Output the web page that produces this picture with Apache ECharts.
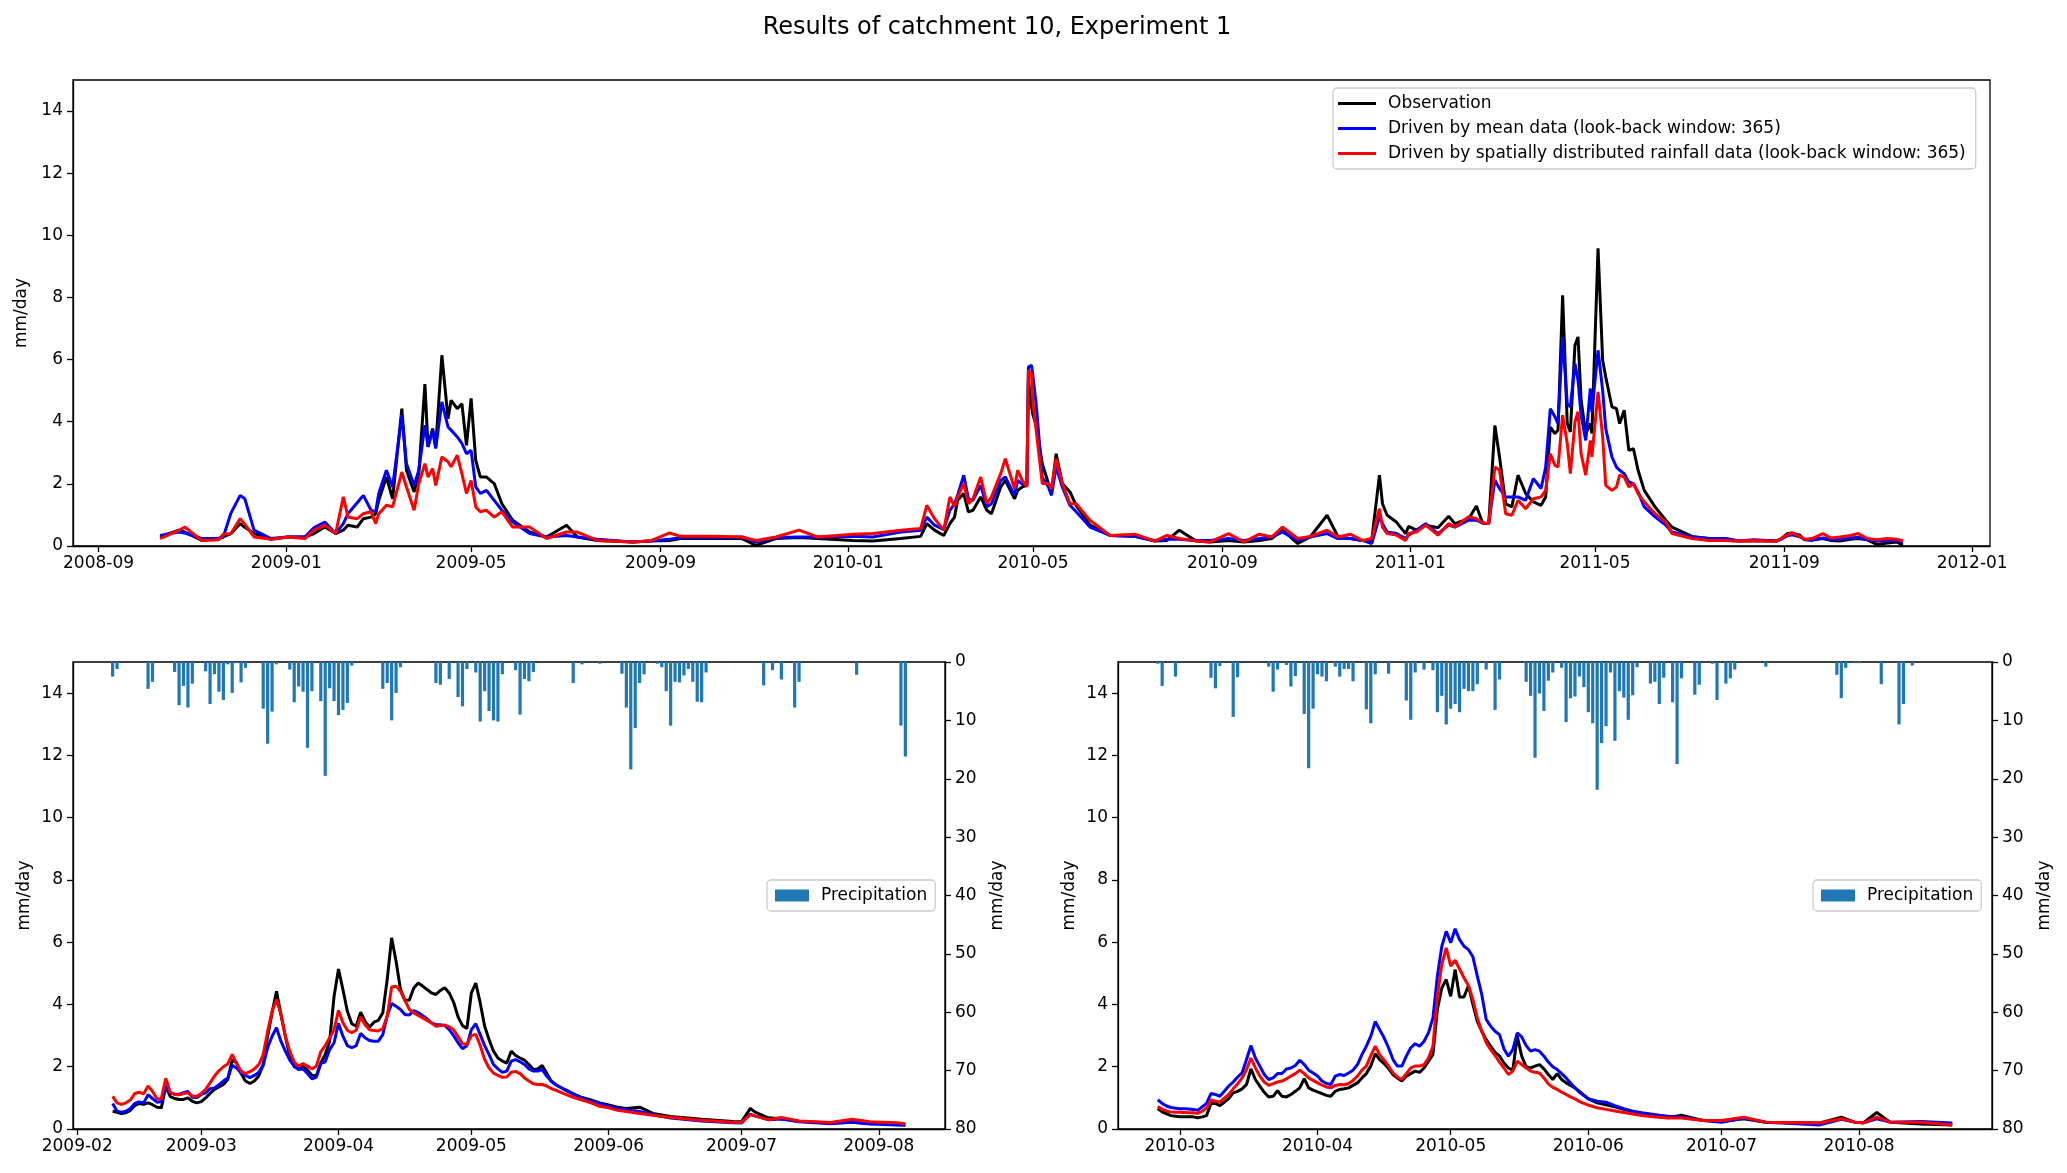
<!DOCTYPE html>
<html>
<head>
<meta charset="utf-8">
<title>Results of catchment 10, Experiment 1</title>
<script src="https://cdn.jsdelivr.net/npm/echarts@6/dist/echarts.min.js"></script>
<style>
  html, body { margin: 0; padding: 0; background: #fff; }
  #chart { width: 2067px; height: 1173px; }
</style>
</head>
<body>
<div id="chart"></div>
<script type="text/javascript">
// ---- top panel: whole period (mm/day) ----
var topDates = [
  '2008-10-11','2008-10-23','2008-10-27','2008-11-07','2008-11-18','2008-11-21','2008-11-26','2008-12-02','2008-12-05','2008-12-11','2008-12-22',
  '2009-01-02','2009-01-13','2009-01-19','2009-01-26','2009-02-02','2009-02-07','2009-02-10','2009-02-16','2009-02-20','2009-02-25','2009-02-28',
  '2009-03-02','2009-03-07','2009-03-11','2009-03-17','2009-03-20','2009-03-25','2009-03-28','2009-04-01','2009-04-03','2009-04-06','2009-04-08',
  '2009-04-12','2009-04-16','2009-04-18','2009-04-22','2009-04-25','2009-04-28','2009-05-01','2009-05-04','2009-05-07','2009-05-11','2009-05-16',
  '2009-05-21','2009-05-28','2009-06-08','2009-06-19','2009-07-02','2009-07-09','2009-07-22','2009-08-14','2009-08-25','2009-09-07',
  '2009-09-14','2009-10-06','2009-10-24','2009-11-02','2009-11-15','2009-11-30','2009-12-12','2010-01-04','2010-01-17','2010-02-04','2010-02-17',
  '2010-02-21','2010-02-26','2010-03-04','2010-03-08','2010-03-11','2010-03-13','2010-03-17','2010-03-20','2010-03-23','2010-03-28','2010-04-01',
  '2010-04-04','2010-04-10','2010-04-13','2010-04-19','2010-04-21','2010-04-24','2010-04-27','2010-04-28','2010-04-30','2010-05-01','2010-05-03',
  '2010-05-07','2010-05-11','2010-05-13','2010-05-16','2010-05-20','2010-05-25','2010-05-29','2010-06-07','2010-06-20','2010-07-06','2010-07-19',
  '2010-07-27','2010-08-04','2010-08-15',
  '2010-08-24','2010-09-05','2010-09-15','2010-09-25','2010-10-03','2010-10-10','2010-10-20','2010-10-28','2010-11-08','2010-11-15','2010-11-23',
  '2010-12-01','2010-12-07','2010-12-12','2010-12-14','2010-12-17','2010-12-23','2010-12-29','2010-12-31','2011-01-05','2011-01-11','2011-01-19',
  '2011-01-26','2011-01-30','2011-02-08','2011-02-13','2011-02-17','2011-02-21','2011-02-25','2011-02-28','2011-03-04','2011-03-08','2011-03-12',
  '2011-03-17','2011-03-22','2011-03-27','2011-03-30','2011-04-02','2011-04-05','2011-04-07','2011-04-10','2011-04-13','2011-04-15','2011-04-18',
  '2011-04-20','2011-04-22','2011-04-25','2011-04-28','2011-04-29','2011-05-03','2011-05-06','2011-05-08','2011-05-12','2011-05-15','2011-05-17',
  '2011-05-20','2011-05-23','2011-05-26','2011-05-29','2011-06-02','2011-06-09','2011-06-16','2011-06-20','2011-07-03','2011-07-14','2011-07-25',
  '2011-08-03','2011-08-12','2011-08-27','2011-08-30','2011-09-03','2011-09-06','2011-09-11','2011-09-14','2011-09-19','2011-09-26','2011-10-01',
  '2011-10-07','2011-10-14','2011-10-19','2011-10-25','2011-10-31','2011-11-07','2011-11-13','2011-11-17'
];
var topObs = [
  0.29,0.51,0.45,0.18,0.24,0.29,0.40,0.72,0.60,0.40,0.22,
  0.29,0.29,0.40,0.61,0.40,0.51,0.67,0.61,0.88,0.93,1.04,
  1.47,2.22,1.52,4.42,2.44,1.74,2.33,5.21,3.19,3.78,3.19,
  6.14,4.10,4.69,4.42,4.58,3.24,4.75,2.76,2.22,2.22,2.01,
  1.36,0.83,0.45,0.29,0.67,0.29,0.18,0.13,0.16,0.18,
  0.24,0.24,0.24,0.02,0.24,0.27,0.24,0.18,0.16,0.24,0.31,
  0.72,0.51,0.34,0.72,0.93,1.47,1.69,1.10,1.15,1.58,1.15,
  1.04,1.90,2.11,1.52,1.79,1.90,1.96,5.34,4.48,4.21,3.90,
  2.65,2.01,1.74,2.97,2.01,1.74,1.31,0.67,0.34,0.31,0.16,
  0.18,0.51,0.16,
  0.13,0.18,0.13,0.18,0.24,0.51,0.08,0.29,0.99,0.31,0.24,
  0.18,0.18,2.28,1.36,0.99,0.77,0.40,0.63,0.51,0.67,0.59,
  0.96,0.72,0.88,1.29,0.74,0.72,3.88,2.87,1.36,1.26,2.28,
  1.69,1.42,1.31,1.58,3.83,3.62,3.73,8.07,3.94,3.67,6.46,
  6.73,4.69,3.62,3.94,3.62,9.58,5.98,5.44,4.48,4.42,3.94,
  4.37,3.08,3.13,2.44,1.79,1.26,0.83,0.61,0.31,0.24,0.18,
  0.16,0.16,0.16,0.24,0.40,0.42,0.35,0.20,0.20,0.24,0.18,
  0.16,0.22,0.24,0.20,0.05,0.10,0.13,0.03
];
var topMean = [
  0.34,0.45,0.42,0.24,0.24,0.29,1.06,1.63,1.52,0.51,0.24,
  0.29,0.29,0.59,0.77,0.40,0.72,1.04,1.39,1.63,1.15,1.10,
  1.69,2.44,1.90,4.21,2.65,1.95,2.44,3.89,3.19,3.73,3.14,
  4.64,3.83,3.73,3.51,3.30,2.97,3.08,1.90,1.69,1.79,1.47,
  1.15,0.77,0.40,0.29,0.34,0.29,0.22,0.13,0.16,0.22,
  0.27,0.27,0.29,0.13,0.27,0.29,0.29,0.31,0.29,0.45,0.51,
  0.93,0.67,0.53,1.15,1.36,1.63,2.28,1.52,1.47,1.95,1.26,
  1.36,2.11,2.22,1.63,2.11,1.99,1.99,5.76,5.82,5.44,4.58,
  2.22,1.90,1.63,2.54,1.90,1.31,1.10,0.61,0.34,0.31,0.18,
  0.22,0.22,0.18,
  0.18,0.24,0.18,0.24,0.29,0.45,0.18,0.29,0.40,0.24,0.24,
  0.18,0.08,0.94,0.72,0.45,0.40,0.24,0.35,0.51,0.72,0.40,
  0.67,0.61,0.83,0.83,0.74,0.72,2.12,1.85,1.58,1.58,1.58,
  1.47,2.17,1.85,2.54,4.42,4.16,3.94,6.73,4.58,4.48,5.87,
  5.34,4.21,3.40,5.07,4.32,6.30,5.01,3.78,2.87,2.54,2.44,
  2.33,2.06,2.01,1.74,1.26,0.94,0.67,0.45,0.29,0.24,0.24,
  0.16,0.20,0.16,0.22,0.33,0.36,0.30,0.22,0.18,0.26,0.20,
  0.22,0.26,0.28,0.20,0.16,0.18,0.18,0.12
];
var topDist = [
  0.24,0.50,0.61,0.18,0.20,0.38,0.40,0.88,0.70,0.29,0.22,
  0.29,0.24,0.51,0.67,0.40,1.58,0.93,0.88,1.04,1.10,0.72,
  1.04,1.31,1.26,2.38,1.90,1.15,2.01,2.65,2.22,2.49,1.95,
  2.87,2.71,2.55,2.92,2.33,1.69,2.11,1.26,1.10,1.15,0.93,
  1.10,0.61,0.61,0.24,0.45,0.45,0.18,0.13,0.16,0.42,
  0.31,0.31,0.29,0.18,0.29,0.51,0.29,0.38,0.40,0.51,0.56,
  1.31,0.88,0.51,1.58,1.26,1.58,2.01,1.36,1.52,2.22,1.36,
  1.58,2.33,2.81,1.84,2.44,2.11,1.90,5.66,5.55,4.58,3.73,
  2.01,2.01,1.84,2.81,2.01,1.36,1.36,0.83,0.34,0.38,0.16,
  0.34,0.24,0.16,
  0.13,0.40,0.13,0.38,0.29,0.61,0.24,0.31,0.51,0.29,0.38,
  0.18,0.24,1.20,0.61,0.40,0.35,0.18,0.40,0.45,0.67,0.35,
  0.72,0.61,0.94,0.88,0.74,0.72,2.54,2.44,1.04,0.99,1.47,
  1.20,1.52,1.58,1.79,2.97,2.60,2.54,4.21,3.30,2.33,3.99,
  4.32,2.97,2.28,3.40,2.87,4.96,3.51,1.95,1.79,1.90,2.28,
  2.22,1.90,2.01,1.69,1.42,1.04,0.77,0.40,0.24,0.18,0.18,
  0.16,0.18,0.15,0.24,0.36,0.42,0.31,0.22,0.24,0.40,0.26,
  0.29,0.34,0.40,0.24,0.20,0.24,0.22,0.16
];
var topTicks = ['2008-09','2009-01','2009-05','2009-09','2010-01','2010-05','2010-09','2011-01','2011-05','2011-09','2012-01'];

// ---- bottom left: 2009 flood season ----
var blDates = [
  '2009-02-09','2009-02-10','2009-02-11','2009-02-12','2009-02-13','2009-02-14','2009-02-15','2009-02-16','2009-02-17','2009-02-18',
  '2009-02-19','2009-02-20','2009-02-21','2009-02-22','2009-02-23','2009-02-24','2009-02-25','2009-02-26','2009-02-27','2009-02-28',
  '2009-03-01','2009-03-02','2009-03-03','2009-03-04','2009-03-05','2009-03-06','2009-03-07','2009-03-08','2009-03-09','2009-03-10',
  '2009-03-11','2009-03-12','2009-03-13','2009-03-14','2009-03-15','2009-03-16','2009-03-17','2009-03-18','2009-03-19','2009-03-20',
  '2009-03-21','2009-03-22','2009-03-23','2009-03-24','2009-03-25','2009-03-26','2009-03-27','2009-03-28','2009-03-29','2009-03-30','2009-03-31',
  '2009-04-01','2009-04-02','2009-04-03','2009-04-04','2009-04-05','2009-04-06','2009-04-07','2009-04-08','2009-04-09','2009-04-10',
  '2009-04-11','2009-04-12','2009-04-13','2009-04-14','2009-04-15','2009-04-16','2009-04-17','2009-04-18','2009-04-19','2009-04-20',
  '2009-04-21','2009-04-22','2009-04-23','2009-04-24','2009-04-25','2009-04-26','2009-04-27','2009-04-28','2009-04-29','2009-04-30',
  '2009-05-01','2009-05-02','2009-05-03','2009-05-04','2009-05-05','2009-05-06','2009-05-07','2009-05-08','2009-05-09','2009-05-10',
  '2009-05-11','2009-05-12','2009-05-13','2009-05-14','2009-05-15','2009-05-16','2009-05-17','2009-05-18','2009-05-19','2009-05-20',
  '2009-05-22','2009-05-24','2009-05-26','2009-05-28','2009-05-30','2009-06-01','2009-06-03',
  '2009-06-05','2009-06-08','2009-06-11','2009-06-15','2009-06-22','2009-06-29','2009-07-01','2009-07-03','2009-07-04','2009-07-07',
  '2009-07-10','2009-07-14','2009-07-21','2009-07-26','2009-07-30','2009-08-05','2009-08-07'
];
var blObs = [
  0.57,0.54,0.50,0.52,0.60,0.75,0.82,0.79,0.84,0.78,0.70,0.68,1.38,1.05,0.98,0.95,0.95,1.00,0.89,0.84,
  0.88,1.00,1.14,1.27,1.35,1.43,1.59,2.23,2.12,1.78,1.54,1.46,1.54,1.70,2.07,2.98,3.73,4.42,3.68,2.98,
  2.34,2.00,1.93,2.02,1.89,1.73,1.70,2.12,2.39,2.82,4.26,
  5.14,4.48,3.78,3.38,3.30,3.75,3.46,3.27,3.43,3.49,3.73,4.80,6.14,5.39,4.48,4.13,4.14,4.53,4.69,4.59,
  4.48,4.37,4.32,4.45,4.54,4.37,4.07,3.60,3.32,3.23,
  4.37,4.69,4.05,3.30,2.87,2.50,2.28,2.18,2.12,2.50,2.36,2.28,2.21,2.07,1.91,1.93,2.04,1.80,1.54,1.43,
  1.27,1.13,1.01,0.93,0.84,0.77,0.70,
  0.66,0.70,0.50,0.40,0.31,0.24,0.23,0.66,0.55,0.36,0.33,0.25,0.19,0.22,0.18,0.15,0.14
];
var blMean = [
  0.82,0.57,0.54,0.57,0.66,0.82,0.87,0.84,1.10,0.98,0.86,0.88,1.38,1.16,1.12,1.12,1.17,1.21,1.02,1.00,
  1.11,1.16,1.29,1.32,1.42,1.54,1.64,2.05,1.96,1.80,1.72,1.65,1.72,1.82,2.04,2.61,2.98,3.25,2.82,2.50,
  2.21,2.02,1.91,1.93,1.78,1.61,1.67,2.10,2.16,2.55,2.77,
  3.39,2.98,2.68,2.61,2.68,3.07,2.93,2.84,2.82,2.82,3.03,3.64,4.03,3.94,3.84,3.68,3.66,3.80,3.74,3.64,
  3.54,3.41,3.35,3.35,3.32,3.19,3.00,2.77,2.58,2.68,
  3.19,3.38,3.03,2.68,2.39,2.07,1.93,1.82,1.86,2.18,2.23,2.16,2.07,1.93,1.86,1.86,1.91,1.70,1.54,1.43,
  1.27,1.13,0.99,0.89,0.82,0.73,0.66,
  0.62,0.56,0.46,0.35,0.26,0.20,0.19,0.48,0.42,0.30,0.32,0.23,0.17,0.22,0.16,0.13,0.12
];
var blDist = [
  1.05,0.84,0.79,0.84,0.93,1.14,1.18,1.13,1.38,1.21,0.97,0.98,1.63,1.18,1.11,1.10,1.14,1.16,1.05,1.05,
  1.14,1.27,1.48,1.70,1.87,2.00,2.09,2.40,2.10,1.86,1.78,1.84,1.93,2.07,2.39,3.14,3.78,4.16,3.68,2.98,
  2.50,2.15,2.02,2.10,2.02,1.93,2.02,2.48,2.68,2.93,3.19,
  3.81,3.41,3.17,3.09,3.17,3.60,3.35,3.19,3.16,3.15,3.23,3.62,4.56,4.59,4.42,4.13,3.84,3.73,3.65,3.57,
  3.49,3.41,3.30,3.32,3.34,3.28,3.19,2.96,2.74,2.71,
  3.00,3.04,2.68,2.23,1.96,1.80,1.72,1.66,1.67,1.82,1.85,1.78,1.64,1.54,1.45,1.43,1.43,1.38,1.30,1.25,
  1.13,1.02,0.93,0.84,0.73,0.68,0.60,
  0.56,0.50,0.44,0.37,0.28,0.22,0.21,0.46,0.42,0.30,0.37,0.26,0.21,0.31,0.23,0.20,0.17
];
var blRainDates = [
  '2009-02-09','2009-02-10','2009-02-17','2009-02-18','2009-02-23','2009-02-24','2009-02-25','2009-02-26','2009-02-27','2009-03-02',
  '2009-03-03','2009-03-04','2009-03-05','2009-03-06','2009-03-07','2009-03-08','2009-03-09','2009-03-10','2009-03-11','2009-03-15',
  '2009-03-16','2009-03-17','2009-03-18','2009-03-21','2009-03-22','2009-03-23','2009-03-24','2009-03-25','2009-03-26','2009-03-28',
  '2009-03-29','2009-03-30','2009-03-31','2009-04-01','2009-04-02','2009-04-03','2009-04-04','2009-04-11','2009-04-12','2009-04-13',
  '2009-04-14','2009-04-15','2009-04-23','2009-04-24','2009-04-26','2009-04-28','2009-04-29','2009-04-30','2009-05-02','2009-05-03',
  '2009-05-04','2009-05-05','2009-05-06','2009-05-07','2009-05-08','2009-05-11','2009-05-12','2009-05-13','2009-05-14','2009-05-15',
  '2009-05-24','2009-05-26','2009-05-30','2009-06-04','2009-06-05','2009-06-06','2009-06-07','2009-06-08','2009-06-09','2009-06-12',
  '2009-06-13','2009-06-14','2009-06-15','2009-06-16','2009-06-17','2009-06-18','2009-06-19','2009-06-20','2009-06-21','2009-06-22',
  '2009-06-23','2009-07-06','2009-07-08','2009-07-10','2009-07-13','2009-07-14','2009-07-27','2009-08-06','2009-08-07'
];
var blRain = [
  2.5,1.2,4.6,3.4,1.7,7.4,4.1,7.8,3.7,1.6,
  7.2,2.1,5.1,6.5,0.4,5.3,0.2,3.5,1.0,8.0,
  14.0,8.5,0.4,1.3,6.9,4.2,5.1,14.7,5.0,6.7,
  19.5,4.5,6.7,9.1,8.2,7.0,0.6,4.6,3.6,10.0,
  5.3,0.9,3.6,3.9,2.9,6.0,7.6,1.2,1.8,10.2,
  5.0,8.4,10.0,10.2,2.1,1.4,9.0,2.9,3.3,1.7,
  3.6,0.4,0.3,2.0,7.8,18.4,11.3,3.6,2.1,0.3,
  0.9,5.0,10.9,3.4,3.5,2.3,1.2,3.4,6.8,6.9,
  1.8,4.0,1.4,3.0,7.8,3.4,2.2,10.9,16.2
];
var blTicks = ['2009-02','2009-03','2009-04','2009-05','2009-06','2009-07','2009-08'];

// ---- bottom right: 2010 flood season ----
var brDates = [
  '2010-02-24','2010-02-25','2010-02-26','2010-02-27','2010-02-28',
  '2010-03-01','2010-03-02','2010-03-03','2010-03-04','2010-03-05','2010-03-06','2010-03-07','2010-03-08','2010-03-09','2010-03-10',
  '2010-03-11','2010-03-12','2010-03-13','2010-03-14','2010-03-15','2010-03-16','2010-03-17','2010-03-18','2010-03-19','2010-03-20',
  '2010-03-21','2010-03-22','2010-03-23','2010-03-24','2010-03-25','2010-03-26','2010-03-27','2010-03-28','2010-03-29','2010-03-30','2010-03-31',
  '2010-04-01','2010-04-02','2010-04-03','2010-04-04','2010-04-05','2010-04-06','2010-04-07','2010-04-08','2010-04-09','2010-04-10',
  '2010-04-11','2010-04-12','2010-04-13','2010-04-14','2010-04-15','2010-04-16','2010-04-17','2010-04-18','2010-04-19','2010-04-20',
  '2010-04-21','2010-04-22','2010-04-23','2010-04-24','2010-04-25','2010-04-26','2010-04-27','2010-04-28','2010-04-29','2010-04-30',
  '2010-05-01','2010-05-02','2010-05-03','2010-05-04','2010-05-05','2010-05-06','2010-05-07','2010-05-08','2010-05-09','2010-05-10',
  '2010-05-11','2010-05-12','2010-05-13','2010-05-14','2010-05-15','2010-05-16','2010-05-17','2010-05-18','2010-05-19','2010-05-20',
  '2010-05-21','2010-05-22','2010-05-23','2010-05-24','2010-05-25','2010-05-26','2010-05-27','2010-05-28','2010-05-29','2010-05-30',
  '2010-06-01','2010-06-03','2010-06-05','2010-06-07','2010-06-09','2010-06-11','2010-06-13','2010-06-15','2010-06-17','2010-06-19',
  '2010-06-22','2010-06-27','2010-07-01','2010-07-06','2010-07-11','2010-07-19','2010-07-23','2010-07-28','2010-07-31','2010-08-02',
  '2010-08-05','2010-08-08','2010-08-15','2010-08-22'
];
var brObs = [
  0.66,0.55,0.49,0.43,0.41,
  0.39,0.39,0.39,0.39,0.36,0.39,0.43,0.82,0.82,0.75,0.86,0.98,1.16,1.21,1.29,1.43,1.93,1.59,1.38,1.18,
  1.03,1.05,1.23,1.05,1.03,1.11,1.21,1.32,1.62,1.32,1.25,
  1.19,1.14,1.08,1.05,1.21,1.27,1.29,1.32,1.40,1.48,1.64,1.78,2.02,2.42,2.23,2.10,1.94,1.75,1.64,1.54,
  1.70,1.78,1.86,1.82,1.96,2.18,2.39,3.84,4.53,4.80,
  4.26,5.12,4.24,4.24,4.61,4.00,3.46,3.14,2.87,2.66,2.46,2.34,2.12,1.96,1.89,2.98,2.34,2.00,1.96,2.02,
  2.07,1.93,1.75,1.59,1.78,1.59,1.48,1.40,1.32,1.21,
  0.97,0.84,0.78,0.71,0.63,0.55,0.51,0.45,0.41,0.36,
  0.44,0.27,0.24,0.33,0.22,0.20,0.19,0.38,0.22,0.20,0.53,0.22,0.16,0.13
];
var brMean = [
  0.94,0.82,0.74,0.69,0.67,
  0.65,0.65,0.64,0.63,0.60,0.71,0.82,1.14,1.11,1.05,1.21,1.38,1.51,1.67,1.80,2.23,2.68,2.28,2.02,1.75,
  1.59,1.64,1.78,1.78,1.93,1.96,2.04,2.21,2.07,1.89,1.80,
  1.70,1.54,1.46,1.43,1.70,1.75,1.72,1.80,1.89,2.07,2.39,2.66,2.98,3.45,3.19,2.93,2.61,2.23,2.02,2.02,
  2.34,2.61,2.74,2.66,2.82,3.09,3.57,4.91,5.87,6.35,
  5.98,6.43,6.08,5.87,5.76,5.53,4.91,4.32,3.52,3.30,3.14,3.03,2.57,2.34,2.55,3.09,2.96,2.68,2.50,2.55,
  2.50,2.34,2.15,2.00,1.91,1.78,1.64,1.48,1.32,1.18,
  0.97,0.89,0.86,0.75,0.65,0.57,0.52,0.48,0.44,0.41,
  0.38,0.27,0.22,0.35,0.22,0.16,0.13,0.31,0.22,0.20,0.33,0.22,0.24,0.19
];
var brDist = [
  0.72,0.63,0.58,0.55,0.54,
  0.54,0.53,0.52,0.52,0.50,0.57,0.68,0.93,0.89,0.86,0.99,1.11,1.29,1.45,1.64,1.91,2.28,1.96,1.70,1.51,
  1.40,1.46,1.51,1.54,1.61,1.70,1.78,1.89,1.78,1.64,1.56,
  1.48,1.41,1.35,1.32,1.40,1.43,1.42,1.46,1.56,1.70,1.89,2.02,2.36,2.66,2.39,2.21,2.02,1.80,1.67,1.59,
  1.78,1.96,2.02,2.02,2.07,2.28,2.66,4.26,5.28,5.82,
  5.23,5.42,5.14,4.85,4.61,4.16,3.57,3.14,2.77,2.55,2.36,2.15,1.96,1.75,1.86,2.18,2.07,1.96,1.86,1.82,
  1.80,1.64,1.45,1.34,1.27,1.18,1.11,1.03,0.97,0.88,
  0.77,0.68,0.63,0.58,0.53,0.48,0.43,0.40,0.38,0.35,
  0.35,0.27,0.27,0.38,0.22,0.20,0.19,0.33,0.22,0.20,0.38,0.22,0.22,0.13
];
var brRainDates = [
  '2010-02-24','2010-02-25','2010-02-28','2010-03-08','2010-03-09','2010-03-10','2010-03-13','2010-03-14','2010-03-21','2010-03-22',
  '2010-03-23','2010-03-25','2010-03-26','2010-03-27','2010-03-29','2010-03-30','2010-03-31','2010-04-01','2010-04-02','2010-04-03',
  '2010-04-05','2010-04-06','2010-04-07','2010-04-08','2010-04-09','2010-04-12','2010-04-13','2010-04-14','2010-04-17','2010-04-21',
  '2010-04-22','2010-04-23','2010-04-25','2010-04-27','2010-04-28','2010-04-29','2010-04-30','2010-05-01','2010-05-02','2010-05-03',
  '2010-05-04','2010-05-05','2010-05-06','2010-05-07','2010-05-09','2010-05-11','2010-05-12','2010-05-18','2010-05-19','2010-05-20',
  '2010-05-21','2010-05-22','2010-05-23','2010-05-24','2010-05-26','2010-05-27','2010-05-28','2010-05-29','2010-05-30','2010-05-31',
  '2010-06-01','2010-06-02','2010-06-03','2010-06-04','2010-06-05','2010-06-06','2010-06-07','2010-06-08','2010-06-09','2010-06-10',
  '2010-06-11','2010-06-12','2010-06-15','2010-06-16','2010-06-17','2010-06-18','2010-06-20','2010-06-21','2010-06-22','2010-06-25',
  '2010-06-26','2010-06-29','2010-06-30','2010-07-02','2010-07-03','2010-07-04','2010-07-11','2010-07-27','2010-07-28','2010-07-29',
  '2010-07-31','2010-08-01','2010-08-06','2010-08-10','2010-08-11','2010-08-13'
];
var brRain = [
  0.3,4.1,2.5,2.7,4.5,0.7,9.4,2.6,0.8,5.1,
  1.3,0.5,4.2,2.4,8.9,18.2,8.0,2.1,2.5,3.3,
  0.8,2.5,1.2,1.2,3.3,8.1,10.5,2.1,2.0,6.6,
  9.9,1.8,1.3,1.4,8.6,5.8,10.7,8.0,7.2,8.6,
  4.6,5.0,5.0,3.8,1.3,8.2,3.0,3.4,5.8,16.4,
  5.4,8.4,3.2,1.8,1.0,10.3,6.2,5.9,2.5,4.3,
  8.6,10.5,21.9,13.9,11.0,1.8,13.5,5.0,6.1,9.9,
  5.7,0.9,3.7,3.4,7.2,2.7,6.9,17.5,2.8,5.6,
  3.9,0.3,6.5,3.7,2.8,1.3,0.8,2.2,6.2,1.0,
  0.2,0.2,3.8,10.7,7.2,0.6
];
var brTicks = ['2010-03','2010-04','2010-05','2010-06','2010-07','2010-08'];

var flowTicks = [0, 2, 4, 6, 8, 10, 12, 14];
var seriesNames = ['Observation', 'Driven by mean data (look-back window: 365)', 'Driven by spatially distributed rainfall data (look-back window: 365)'];
var seriesColors = ['#000000', '#0000ff', '#ff0000'];

// ---- helpers ----
function toTime(s) {
  var p = s.split('-');
  return new Date(+p[0], +p[1] - 1, p[2] ? +p[2] : 1).getTime();
}
function pairs(dates, vals) {
  return dates.map(function (d, i) { return [toTime(d), vals[i]]; });
}
// matplotlib style 5% margins around the data range
function padRange(dates) {
  var a = toTime(dates[0]), b = toTime(dates[dates.length - 1]);
  var m = (b - a) * 0.05;
  return [a - m, b + m];
}
function monthLabel(v) {
  var d = new Date(v);
  return d.getFullYear() + '-' + ('0' + (d.getMonth() + 1)).slice(-2);
}

var FONT = 'DejaVu Sans';
var axisLineStyle = { show: true, lineStyle: { color: '#000', width: 1.3 } };

// dates are plotted on a plain value axis (timestamps), ticks at month starts
function dateAxis(gridIndex, dates, ticks) {
  var r = padRange(dates);
  var vals = ticks.map(toTime);
  return {
    type: 'value', gridIndex: gridIndex, min: r[0], max: r[1],
    axisLine: axisLineStyle,
    axisTick: { show: true, length: 6, lineStyle: { color: '#000', width: 1.3 }, customValues: vals },
    axisLabel: { customValues: vals, formatter: monthLabel, color: '#000', fontSize: 17, fontFamily: FONT, margin: 9 },
    splitLine: { show: false }, minorTick: { show: false }
  };
}
function flowAxis(gridIndex) {
  return {
    type: 'value', gridIndex: gridIndex, position: 'left', min: 0, max: 15,
    name: 'mm/day', nameLocation: 'middle', nameRotate: 90, nameGap: 40,
    nameTextStyle: { color: '#000', fontSize: 17, fontFamily: FONT },
    axisLine: axisLineStyle,
    axisTick: { show: true, length: 6, lineStyle: { color: '#000', width: 1.3 }, customValues: flowTicks },
    axisLabel: { customValues: flowTicks, color: '#000', fontSize: 17, fontFamily: FONT, margin: 10 },
    splitLine: { show: false }
  };
}
function rainAxis(gridIndex) {
  return {
    type: 'value', gridIndex: gridIndex, position: 'right', min: 0, max: 80, interval: 10, inverse: true,
    name: 'mm/day', nameLocation: 'middle', nameRotate: 90, nameGap: 44,
    nameTextStyle: { color: '#000', fontSize: 17, fontFamily: FONT },
    axisLine: axisLineStyle,
    axisTick: { show: true, length: 6, lineStyle: { color: '#000', width: 1.3 } },
    axisLabel: { color: '#000', fontSize: 17, fontFamily: FONT, margin: 10 },
    splitLine: { show: false }
  };
}
function lineSeries(k, xi, yi, dates, vals) {
  return {
    type: 'line', name: seriesNames[k], xAxisIndex: xi, yAxisIndex: yi,
    data: pairs(dates, vals), showSymbol: false, symbol: 'none',
    lineStyle: { color: seriesColors[k], width: 3 }, itemStyle: { color: seriesColors[k] },
    z: 2 + k
  };
}
function rainSeries(xi, yi, dates, vals) {
  return {
    type: 'bar', name: 'Precipitation', xAxisIndex: xi, yAxisIndex: yi,
    data: pairs(dates, vals), barWidth: 3.2, itemStyle: { color: '#1f77b4' }, z: 6
  };
}
function rainLegend(left) {
  return {
    data: ['Precipitation'], left: left, top: 880, orient: 'vertical', selectedMode: false,
    icon: 'rect', itemWidth: 34, itemHeight: 12,
    padding: [7, 8, 7, 8],
    backgroundColor: 'rgba(255,255,255,0.8)', borderColor: '#cccccc', borderWidth: 1.3, borderRadius: 4,
    textStyle: { color: '#000', fontSize: 17, fontFamily: FONT, padding: [0, 0, 0, 7] }
  };
}

var gridBase = { show: true, borderColor: '#000', borderWidth: 1.3, backgroundColor: '#fff', containLabel: false, outerBoundsMode: 'none' };

var option = {
  animation: false,
  backgroundColor: '#fff',
  textStyle: { fontFamily: FONT },
  graphic: [{
    type: 'text', x: 997, y: 28,
    style: { text: 'Results of catchment 10, Experiment 1', font: '24px "DejaVu Sans"', fill: '#000',
      align: 'center', verticalAlign: 'middle', textAlign: 'center', textVerticalAlign: 'middle' }
  }],
  grid: [
    Object.assign({ left: 73, top: 80, width: 1917, height: 466 }, gridBase),
    Object.assign({ left: 73, top: 662, width: 872, height: 467 }, gridBase),
    Object.assign({ left: 1118, top: 662, width: 874, height: 467 }, gridBase)
  ],
  xAxis: [
    dateAxis(0, topDates, topTicks),
    dateAxis(1, blDates, blTicks),
    dateAxis(2, brDates, brTicks)
  ],
  yAxis: [
    flowAxis(0),
    flowAxis(1),
    rainAxis(1),
    flowAxis(2),
    rainAxis(2)
  ],
  legend: [
    {
      data: seriesNames.map(function (n, k) { return { name: n, itemStyle: { color: seriesColors[k] } }; }),
      left: 1333, top: 88, orient: 'vertical', selectedMode: false,
      icon: 'rect', itemWidth: 38, itemHeight: 3, itemGap: 8,
      padding: [7, 10, 7, 5],
      backgroundColor: 'rgba(255,255,255,0.8)', borderColor: '#cccccc', borderWidth: 1.3, borderRadius: 4,
      textStyle: { color: '#000', fontSize: 17, fontFamily: FONT, padding: [0, 0, 0, 7] }
    },
    rainLegend(767),
    rainLegend(1813)
  ],
  series: [
    lineSeries(0, 0, 0, topDates, topObs),
    lineSeries(1, 0, 0, topDates, topMean),
    lineSeries(2, 0, 0, topDates, topDist),
    rainSeries(1, 2, blRainDates, blRain),
    lineSeries(0, 1, 1, blDates, blObs),
    lineSeries(1, 1, 1, blDates, blMean),
    lineSeries(2, 1, 1, blDates, blDist),
    rainSeries(2, 4, brRainDates, brRain),
    lineSeries(0, 2, 3, brDates, brObs),
    lineSeries(1, 2, 3, brDates, brMean),
    lineSeries(2, 2, 3, brDates, brDist)
  ]
};

var chart = echarts.init(document.getElementById('chart'));
chart.setOption(option);
</script>
</body>
</html>
